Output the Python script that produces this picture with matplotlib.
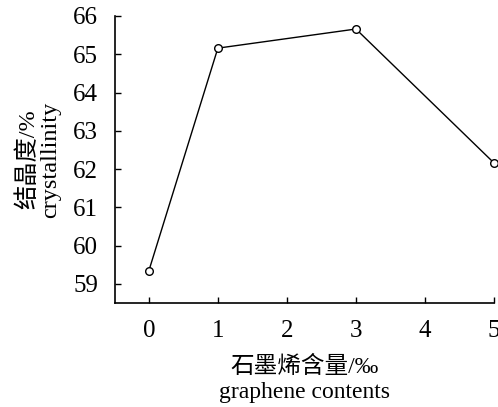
import matplotlib
matplotlib.use("Agg")
import matplotlib.pyplot as plt

x = [0, 1, 3, 5]
crystallinity = [59.34, 65.16, 65.66, 62.16]
xticks = [0, 1, 2, 3, 4, 5]
yticks = [59, 60, 61, 62, 63, 64, 65, 66]

plt.rcParams['font.family'] = ['Liberation Serif', 'Noto Sans CJK SC']

fig = plt.figure(figsize=(4.98, 4.07), dpi=100)
ax = fig.add_axes([115/498, 1-303/407, (494-115)/498, (303-16)/407])
ax.plot(x, crystallinity, color='black', lw=1.0, marker='o', ms=5.5,
        mfc='white', mec='black', mew=1.0, clip_on=False, zorder=3)
ax.set_xlim(-0.49, 5.0)
ax.set_ylim(58.5, 66)
ax.set_xticks(xticks)
ax.set_yticks(yticks)
for s in ['top', 'right']:
    ax.spines[s].set_visible(False)
for s in ['left', 'bottom']:
    ax.spines[s].set_linewidth(1.2)
ax.tick_params(direction='in', length=4, width=1, labelsize=18)
ax.tick_params(axis='x', pad=12)
ax.tick_params(axis='y', pad=12)
ax.set_xlabel('石墨烯含量/‰\ngraphene contents', fontsize=17, linespacing=1.25, labelpad=10)
ax.set_ylabel('结晶度/%\ncrystallinity', fontsize=17.5, linespacing=1.05, labelpad=9)
fig.savefig('out.png', dpi=100)
